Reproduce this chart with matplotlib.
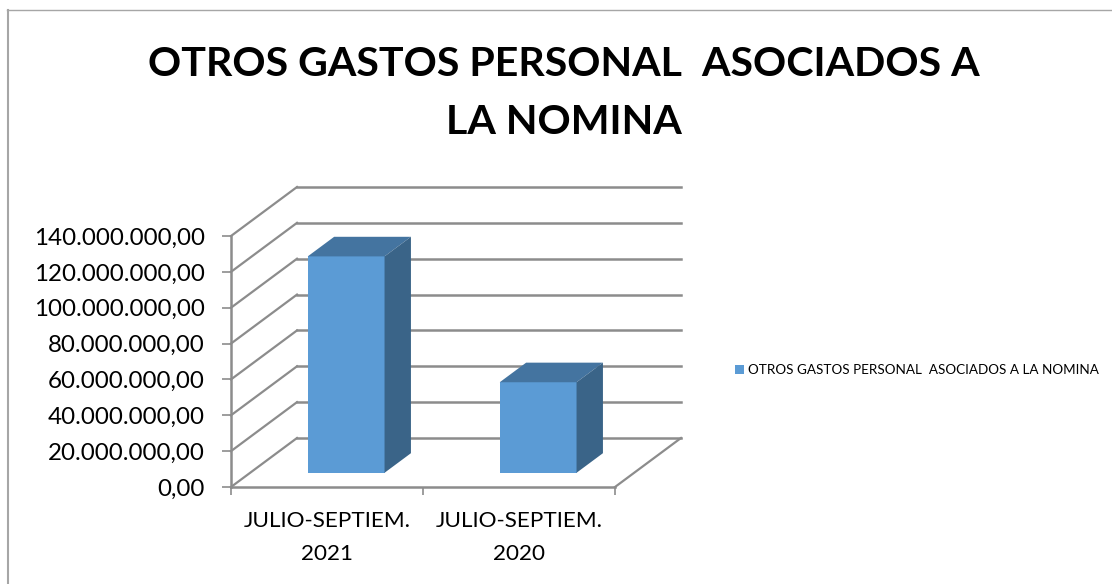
import matplotlib
matplotlib.use('Agg')
import matplotlib.pyplot as plt
from matplotlib.patches import Polygon, Rectangle
from matplotlib.transforms import Affine2D

plt.rcParams['font.family'] = ['Lato', 'DejaVu Sans']

# datos
categories = ['JULIO-SEPTIEM.\n2021', 'JULIO-SEPTIEM.\n2020']
values = [120700000, 50500000]
series_name = 'OTROS GASTOS PERSONAL  ASOCIADOS A LA NOMINA'
title = 'OTROS GASTOS PERSONAL  ASOCIADOS A\nLA NOMINA'
yticks = [0, 20000000, 40000000, 60000000, 80000000, 100000000, 120000000, 140000000]
ytick_labels = ['0,00', '20.000.000,00', '40.000.000,00', '60.000.000,00',
                '80.000.000,00', '100.000.000,00', '120.000.000,00', '140.000.000,00']

W, H = 1112, 584
DX, DY = 66, 49  # profundidad del "3D" en pixeles
GRID = '#8c8c8c'
FRONT, TOP, SIDE = '#5b9bd5', '#4474a0', '#3a6488'

fig = plt.figure(figsize=(W / 100, H / 100), dpi=100)
ax = fig.add_axes([231 / W, 1 - 487 / H, 384 / W, 251 / H])
ax.set_xlim(0, 2)
ax.set_ylim(0, 140000000)
ax.patch.set_visible(False)


def depth(frac):
    # desplaza hacia el fondo del grafico
    return ax.transData + Affine2D().translate(DX * frac, DY * frac)


# marco exterior (solo arriba e izquierda)
fig.add_artist(plt.Line2D([7.5 / W, 7.5 / W], [0, 1 - 9.5 / H], transform=fig.transFigure,
                          color='#a6a6a6', lw=1.5))
fig.add_artist(plt.Line2D([7 / W, 1], [1 - 9.5 / H, 1 - 9.5 / H], transform=fig.transFigure,
                          color='#a6a6a6', lw=1.0))

# rejilla: pared del fondo y pared lateral
for v in yticks:
    ax.plot([0, 2], [v, v], transform=depth(1), color=GRID, lw=1.8, clip_on=False, zorder=1)
    x0, y0 = ax.transData.transform((0, v))
    ax.add_line(plt.Line2D([x0, x0 + DX], [y0, y0 + DY], transform=None, color=GRID, lw=1.6,
                           zorder=1, clip_on=False))

# borde del suelo a la derecha
x0, y0 = ax.transData.transform((2, 0))
ax.add_line(plt.Line2D([x0, x0 + DX], [y0, y0 + DY], transform=None, color=GRID, lw=1.6,
                       zorder=1, clip_on=False))

# barras
bar_w = 0.4
bar_front = 0.29
bar_back = 0.69
for i, v in enumerate(values):
    l, r = i + 0.5 - bar_w / 2, i + 0.5 + bar_w / 2
    tr_f = depth(bar_front)
    a = tr_f.transform([(l, 0), (r, 0), (r, v), (l, v)])
    off = (DX * (bar_back - bar_front), DY * (bar_back - bar_front))
    ax.add_patch(Polygon(a, closed=True, transform=None, fc=FRONT, ec='none', zorder=3, clip_on=False))
    top = [a[3], a[2], a[2] + off, a[3] + off]
    ax.add_patch(Polygon(top, closed=True, transform=None, fc=TOP, ec='none', zorder=3, clip_on=False))
    side = [a[1], a[1] + off, a[2] + off, a[2]]
    ax.add_patch(Polygon(side, closed=True, transform=None, fc=SIDE, ec='none', zorder=3, clip_on=False))

# ejes
for s in ['top', 'right']:
    ax.spines[s].set_visible(False)
for s in ['left', 'bottom']:
    ax.spines[s].set_color(GRID)
    ax.spines[s].set_linewidth(1.8)
    ax.spines[s].set_zorder(2)
ax.set_yticks(yticks)
ax.set_yticklabels(ytick_labels, fontsize=17.4, color='black')
ax.set_xticks([0, 1, 2])
ax.set_xticklabels([])
ax.set_xticks([0.5, 1.5], labels=categories, minor=True, fontsize=16.2, color='black', linespacing=1.83)
ax.tick_params(axis='x', which='minor', length=0, pad=17)
ax.tick_params(axis='x', which='major', length=6, width=1.2, color=GRID)
ax.tick_params(axis='y', length=6.5, width=1.2, color=GRID, pad=12.5)

fig.text(564 / W, 1 - 93.5 / H, title, ha='center', va='center', fontsize=29.6, fontweight='bold',
         color='black', linespacing=1.7)

# leyenda
fig.add_artist(Rectangle((735 / W, 1 - 374 / H), 9 / W, 9 / H, transform=fig.transFigure, fc=FRONT, ec='none'))
fig.text(748 / W, 1 - 370 / H, series_name, ha='left', va='center', fontsize=9.75, color='black')

fig.savefig('out.png', dpi=100)
